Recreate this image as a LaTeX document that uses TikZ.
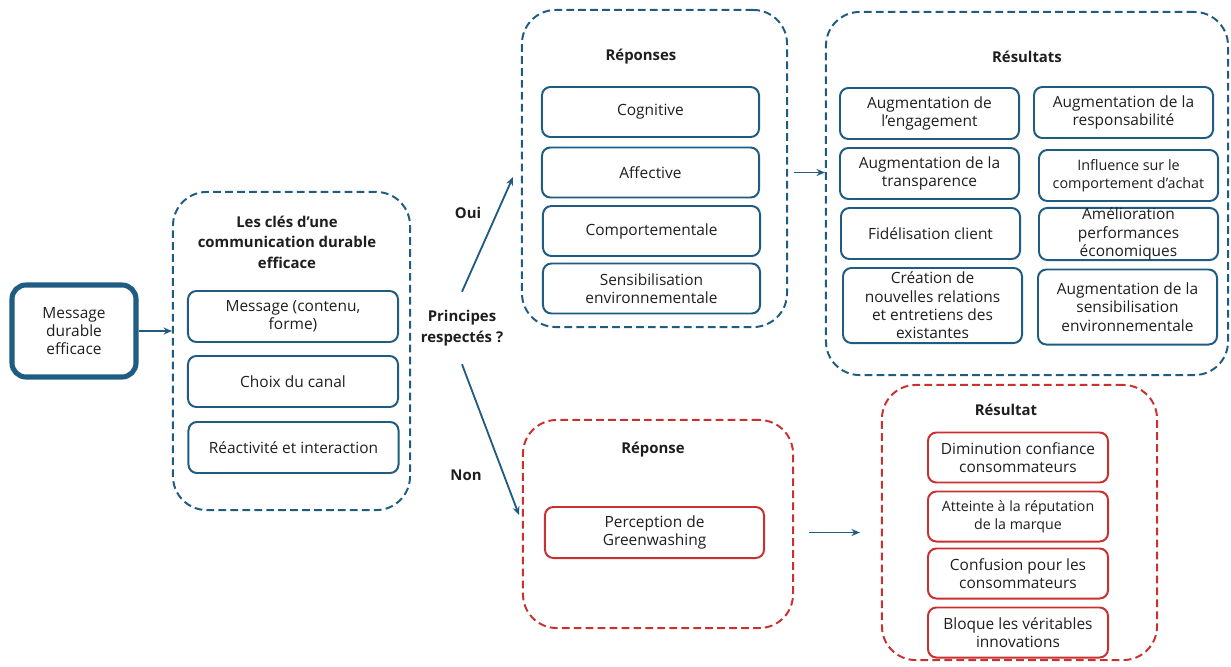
\documentclass[tikz,border=0pt]{standalone}
\usepackage{fontspec}
\setmainfont{Open Sans}
\usetikzlibrary{arrows.meta}
\definecolor{bleu}{RGB}{31,92,130}
\definecolor{rouge}{RGB}{200,49,47}
\definecolor{texte}{RGB}{30,30,30}
\tikzset{
  base/.style={font=\fontsize{11}{13}\selectfont, text=texte, align=center},
  titre/.style={base, font=\fontsize{10.6}{14.6}\selectfont\bfseries},
  bbox/.style={base, draw=bleu, line width=1.4pt, rounded corners=6pt, inner sep=0pt},
  rbox/.style={bbox, draw=rouge},
  cadre/.style={draw=bleu, line width=1.4pt, dash pattern=on 5.5pt off 3pt, rounded corners=24pt, inner sep=0pt},
  rcadre/.style={cadre, draw=rouge},
  fleche/.style={-{Stealth[length=6pt,width=5pt]}, draw=bleu, line width=1.3pt}
}
\begin{document}
\begin{tikzpicture}[x=0.025cm, y=-0.025cm]
    \useasboundingbox (0,0) rectangle (1231,666);

    % Message de depart
    \node[bbox, line width=3.6pt, rounded corners=10pt, minimum width=3.1cm, minimum height=2.3cm] (msg) at (74,331) {Message\\durable\\efficace};

    % Les cles
    \node[cadre, minimum width=5.925cm, minimum height=7.95cm] (cles) at (291.5,351) {};
    \node[titre] (clesT) at (287,242) {Les clés d’une\\communication durable\\efficace};
    \node[bbox, minimum width=5.25cm, minimum height=1.275cm] (cle1) at (293,316.5) {Message (contenu,\\forme)};
    \node[bbox, minimum width=5.25cm, minimum height=1.275cm] (cle2) at (293,381.5) {Choix du canal};
    \node[bbox, minimum width=5.25cm, minimum height=1.275cm] (cle3) at (293.5,447.5) {Réactivité et interaction};

    % Question
    \node[titre, inner ysep=13pt] (principes) at (462,328) {Principes\\respectés ?};
    \node[titre] (oui) at (468,213) {Oui};
    \node[titre] (non) at (466,475) {Non};
    \coordinate (ouiFin) at (513,177);
    \coordinate (nonFin) at (519,515);

    % Reponses
    \node[cadre, minimum width=6.625cm, minimum height=7.925cm] (reponses) at (654.5,168.5) {};
    \node[titre] (reponsesT) at (641,57) {Réponses};
    \node[bbox, minimum width=5.425cm, minimum height=1.25cm] (rep1) at (650.5,112) {Cognitive};
    \node[bbox, minimum width=5.425cm, minimum height=1.25cm] (rep2) at (650.5,172.5) {Affective};
    \node[bbox, minimum width=5.425cm, minimum height=1.25cm] (rep3) at (651.5,231) {Comportementale};
    \node[bbox, minimum width=5.425cm, minimum height=1.25cm] (rep4) at (651.5,288.5) {Sensibilisation\\environnementale};

    % Resultats
    \node[cadre, minimum width=10.05cm, minimum height=9.075cm] (resultats) at (1027,193.5) {};
    \node[titre] (resultatsT) at (1027,57) {Résultats};
    \node[bbox, minimum width=4.475cm, minimum height=1.275cm] (res1) at (929.5,113.5) {Augmentation de\\l’engagement};
    \node[bbox, minimum width=4.475cm, minimum height=1.275cm] (res2) at (1123.5,112.5) {Augmentation de la\\responsabilité};
    \node[bbox, minimum width=4.475cm, minimum height=1.275cm] (res3) at (929.5,173.5) {Augmentation de la\\transparence};
    \node[bbox, minimum width=4.475cm, minimum height=1.275cm] (res4) at (1128.5,175.5) {\fontsize{10.2}{13}\selectfont Influence sur le\\\fontsize{10.2}{13}\selectfont comportement d’achat};
    \node[bbox, minimum width=4.475cm, minimum height=1.275cm] (res5) at (930.5,233.5) {Fidélisation client};
    \node[bbox, minimum width=4.475cm, minimum height=1.275cm] (res6) at (1128.5,234) {Amélioration\\performances\\économiques};
    \node[bbox, minimum width=4.475cm, minimum height=1.875cm] (res7) at (932.5,305.5) {Création de\\nouvelles relations\\et entretiens des\\existantes};
    \node[bbox, minimum width=4.475cm, minimum height=1.875cm] (res8) at (1127.5,307) {Augmentation de la\\sensibilisation\\environnementale};

    % Reponse negative
    \node[rcadre, minimum width=6.75cm, minimum height=5.2cm] (reponse) at (658,524) {};
    \node[titre] (reponseT) at (653,450) {Réponse};
    \node[rbox, minimum width=5.475cm, minimum height=1.275cm] (greenw) at (654.5,532.5) {Perception de\\Greenwashing};

    % Resultat negatif
    \node[rcadre, minimum width=6.875cm, minimum height=6.875cm] (resultat) at (1019.5,522.5) {};
    \node[titre] (resultatT) at (1006,410) {Résultat};
    \node[rbox, minimum width=4.5cm, minimum height=1.25cm] (neg1) at (1018,457.5) {Diminution confiance\\consommateurs};
    \node[rbox, minimum width=4.5cm, minimum height=1.25cm] (neg2) at (1018,516.5) {\fontsize{10.1}{13}\selectfont Atteinte à la réputation\\\fontsize{10.1}{13}\selectfont de la marque};
    \node[rbox, minimum width=4.5cm, minimum height=1.25cm] (neg3) at (1018,573.5) {Confusion pour les\\consommateurs};
    \node[rbox, minimum width=4.5cm, minimum height=1.25cm] (neg4) at (1018,632.5) {Bloque les véritables\\innovations};

    % Fleches
    \draw[fleche] (msg.east) -- (msg.east -| cles.west);
    \draw[fleche] (principes.north) -- (ouiFin);
    \draw[fleche] (principes.south) -- (nonFin);
    \draw[fleche, shorten <=4pt] (reponses.east |- rep2.east) -- (rep2.east -| resultats.west);
    \draw[fleche, shorten <=11pt, shorten >=15pt] (reponse.east |- greenw.east) -- (greenw.east -| resultat.west);
\end{tikzpicture}
\end{document}
